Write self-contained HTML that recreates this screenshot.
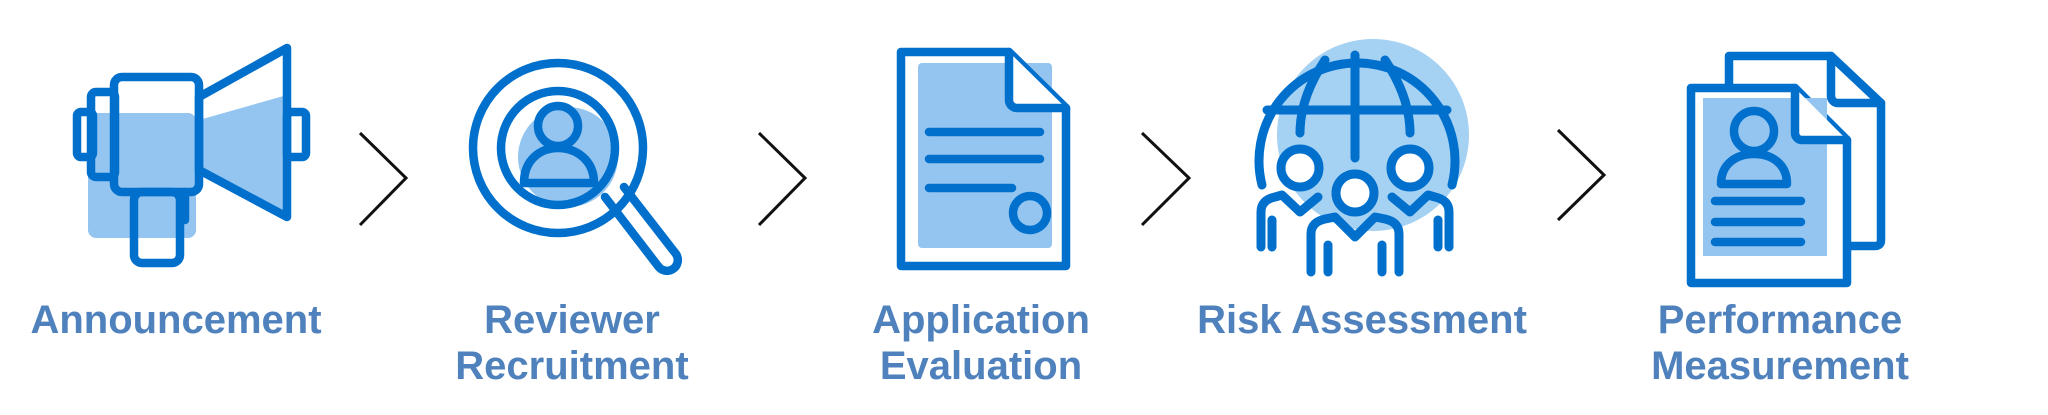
<!DOCTYPE html>
<html><head><meta charset="utf-8"><style>
html,body{margin:0;padding:0;background:#fff;}
svg{display:block;}
text{font-family:"Liberation Sans",Arial,sans-serif;font-weight:bold;font-size:40px;fill:#4f81bd;text-anchor:middle;}
</style></head><body>
<svg width="2048" height="415" viewBox="0 0 2048 415" xmlns="http://www.w3.org/2000/svg">
<g fill="none" stroke="#0070cc" stroke-width="8.5" stroke-linejoin="round" stroke-linecap="round">
<!-- Megaphone -->
<rect x="88" y="113" width="108" height="125" rx="8" fill="#93c5f0" stroke="none"/>
<polygon points="199,120 287,95 287,217 199,170" fill="#93c5f0" stroke="none"/>
<rect x="77" y="112" width="16" height="45" rx="4"/>
<rect x="91" y="92" width="24" height="85" rx="5"/>
<rect x="114" y="77" width="85" height="115" rx="8"/>
<polygon points="199,97 287,48 287,217 199,170"/>
<rect x="287" y="112" width="19" height="45" rx="4"/>
<rect x="134" y="192" width="46" height="71" rx="8"/>
<line x1="185" y1="192" x2="185" y2="220"/>
<!-- Magnifier -->
<circle cx="568" cy="157" r="50" fill="#93c5f0" stroke="none"/>
<circle cx="558" cy="148" r="85"/>
<circle cx="558" cy="148" r="57"/>
<circle cx="558" cy="126" r="20"/>
<path d="M524,183 C524,160 540,148 558,148 C576,148 594,160 594,183 Z"/>
<path d="M605,197 L658,266 A10,10 0 0 0 676,254 L624,187"/>
<!-- Document -->
<rect x="918" y="63" width="134" height="185" rx="4" fill="#93c5f0" stroke="none"/>
<path d="M901,52 L1009,52 L1066,108 L1066,266 L901,266 Z"/>
<path d="M1009,52 L1009,100 A8,8 0 0 0 1017,108 L1066,108" fill="#fff"/>
<line x1="929" y1="132" x2="1040" y2="132"/>
<line x1="929" y1="159" x2="1040" y2="159"/>
<line x1="929" y1="188" x2="1012" y2="188"/>
<circle cx="1030" cy="213" r="17"/>
<!-- Globe -->
<ellipse cx="1373" cy="135" rx="96" ry="96" fill="#a5d1f3" stroke="none"/>
<path d="M1262,185 A98,98 0 1 1 1452,185" stroke-width="9"/>
<line x1="1267" y1="110" x2="1447" y2="110" stroke-width="9"/>
<line x1="1355" y1="55" x2="1355" y2="158" stroke-width="9"/>
<path d="M1325,60 C1305,90 1300,115 1300,133" stroke-width="9"/>
<path d="M1385,60 C1405,90 1410,115 1410,133" stroke-width="9"/>
<circle cx="1300" cy="168" r="19" fill="#fff" stroke-width="9"/>
<circle cx="1410" cy="168" r="19" fill="#fff" stroke-width="9"/>
<circle cx="1355" cy="193" r="19" fill="#fff" stroke-width="9"/>
<path d="M1261,247 L1261,212 Q1261,200 1275,197 L1282,195 L1300,212 L1318,197" stroke-width="9"/>
<line x1="1272" y1="220" x2="1272" y2="247" stroke-width="9"/>
<path d="M1449,247 L1449,212 Q1449,200 1435,197 L1428,195 L1410,212 L1392,197" stroke-width="9"/>
<line x1="1438" y1="220" x2="1438" y2="247" stroke-width="9"/>
<path d="M1311,272 L1311,234 Q1311,222 1325,219 L1335,217 L1355,237 L1375,217 L1385,219 Q1399,222 1399,234 L1399,272" stroke-width="9"/>
<line x1="1328" y1="245" x2="1328" y2="272" stroke-width="9"/>
<line x1="1382" y1="245" x2="1382" y2="272" stroke-width="9"/>
<!-- Performance doc -->
<path d="M1729,248 L1729,56 L1831,56 L1881,103 L1881,240 Q1881,246 1875,246 L1850,246" />
<path d="M1831,56 L1831,96 A7,7 0 0 0 1838,103 L1881,103"/>
<path d="M1691,88 L1795,88 L1847,140 L1847,283 L1691,283 Z" fill="#fff"/>
<rect x="1703" y="98" width="124" height="158" fill="#93c5f0" stroke="none"/>
<path d="M1795,88 L1795,133 A7,7 0 0 0 1802,140 L1847,140" fill="#fff"/>
<circle cx="1754" cy="131" r="20"/>
<path d="M1721,184 C1721,164 1736,154 1754,154 C1772,154 1787,164 1787,184 Z"/>
<line x1="1715" y1="201" x2="1801" y2="201"/>
<line x1="1715" y1="222" x2="1801" y2="222"/>
<line x1="1715" y1="242" x2="1801" y2="242"/>
</g>
<!-- Chevrons -->
<g fill="none" stroke="#111" stroke-width="3">
<polyline points="360,133 406,178 360,225"/>
<polyline points="759,133 805,178 759,225"/>
<polyline points="1142,133 1189,178 1142,225"/>
<polyline points="1558,130 1604,175 1558,220"/>
</g>
<text x="176" y="333">Announcement</text>
<text x="572" y="333">Reviewer</text>
<text x="572" y="379">Recruitment</text>
<text x="981" y="333">Application</text>
<text x="981" y="379">Evaluation</text>
<text x="1362" y="333">Risk Assessment</text>
<text x="1780" y="333">Performance</text>
<text x="1780" y="379">Measurement</text>
</svg>
</body></html>
